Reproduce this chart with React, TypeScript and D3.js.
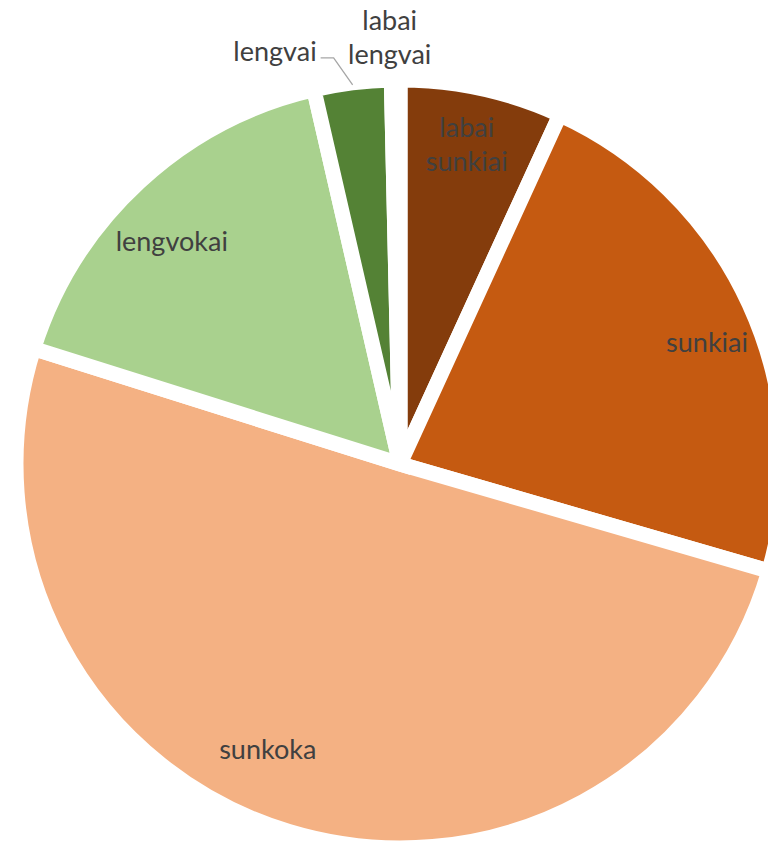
import React from "react";
import * as d3 from "d3";

// answer categories, clockwise from 12 o'clock
const categories = ["labai sunkiai", "sunkiai", "sunkoka", "lengvokai", "lengvai", "labai lengvai"];
const counts = [19, 63, 140, 46, 9, 1];
const colors = ["#843C0C", "#C55A11", "#F4B183", "#A9D18E", "#548235", "#375623"];

const W = 768;
const H = 846;
const cx = 400;
const cy = 464;
const R = 384;

// label layout: radius factor and angle shift (deg) for labels inside slices
const labelLayout = [
  { k: 0.85, shift: -0.5 },
  { k: 0.86, shift: 3 },
  { k: 0.82, shift: 8 },
  { k: 0.83, shift: -3 },
  null,
  null,
];

type Datum = { name: string; value: number; color: string };

export default function App() {
  const data: Datum[] = categories.map((c, i) => ({ name: c, value: counts[i], color: colors[i] }));

  const pie = d3.pie<Datum>().value(d => d.value).sort(null).startAngle(0);
  const arcs = pie(data);
  const arc = d3.arc<d3.PieArcDatum<Datum>>().innerRadius(0).outerRadius(R);

  const fontStyle = { fontFamily: "Lato, 'Open Sans', sans-serif", fontSize: 27, fill: "#404040" };

  const labels = arcs.map((a, i) => {
    const lay = labelLayout[i];
    if (!lay) return null;
    const ang = (a.startAngle + a.endAngle) / 2 + (lay.shift * Math.PI) / 180;
    const x = Math.sin(ang) * R * lay.k;
    const y = -Math.cos(ang) * R * lay.k;
    const lines = a.data.name.split(" ");
    const lh = 34;
    return (
      <text key={i} x={x} y={y} textAnchor="middle" style={fontStyle}>
        {lines.map((l, j) => (
          <tspan key={j} x={x} y={y + (j - (lines.length - 1) / 2) * lh} dy="0.35em">{l}</tspan>
        ))}
      </text>
    );
  });

  // outside labels for the two small green slices
  const lengvai = arcs[4];
  const lvAng = (lengvai.startAngle + lengvai.endAngle) / 2;
  const lvEdge: [number, number] = [Math.sin(lvAng) * (R - 2), -Math.cos(lvAng) * (R - 2)];
  const lvElbow: [number, number] = [lvEdge[0] - 19, lvEdge[1] - 27];
  const lvEnd: [number, number] = [lvElbow[0] - 13, lvElbow[1]];

  const llAng = (arcs[5].startAngle + arcs[5].endAngle) / 2;
  const llX = Math.sin(llAng) * R - 6;
  const llY = -Math.cos(llAng) * R - 434 + R;

  return (
    <svg width={W} height={H} style={{ position: "absolute", left: 0, top: 0, background: "#fff" }}>
      <g transform={`translate(${cx},${cy})`}>
        {arcs.map((a, i) => (
          <path key={i} d={arc(a) || ""} fill={a.data.color} stroke="#fff" strokeWidth={15} strokeLinejoin="miter" />
        ))}
        {labels}
        <polyline points={[lvEdge, lvElbow, lvEnd].map(p => p.join(",")).join(" ")} fill="none" stroke="#A6A6A6" strokeWidth={1.3} />
        <text x={lvEnd[0] - 4} y={lvEnd[1]} dy="0.1em" textAnchor="end" style={fontStyle}>lengvai</text>
        <text x={llX} y={llY} textAnchor="middle" style={fontStyle}>
          <tspan x={llX} dy="0">labai</tspan>
          <tspan x={llX} dy="34">lengvai</tspan>
        </text>
      </g>
    </svg>
  );
}
